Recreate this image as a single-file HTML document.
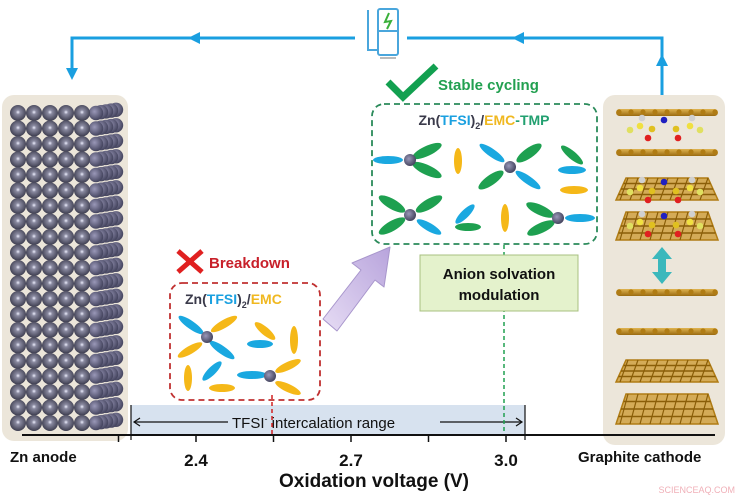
<!DOCTYPE html>
<html><head><meta charset="utf-8"><style>
html,body{margin:0;padding:0;background:#fff;}
svg{display:block;font-family:"Liberation Sans",sans-serif;}
</style></head><body>
<svg id="s" width="750" height="497" viewBox="0 0 750 497">
<defs>
<radialGradient id="zn" cx="0.5" cy="0.45" r="0.55"><stop offset="0" stop-color="#eef0ff"/><stop offset="0.25" stop-color="#8a8aa0"/><stop offset="1" stop-color="#3c3c4e"/></radialGradient>
<radialGradient id="zc" cx="0.4" cy="0.4" r="0.6"><stop offset="0" stop-color="#9a98b8"/><stop offset="1" stop-color="#464660"/></radialGradient>
<linearGradient id="gold" x1="0" y1="0" x2="0" y2="1"><stop offset="0" stop-color="#e0b450"/><stop offset="1" stop-color="#9a6a10"/></linearGradient>
<linearGradient id="purp" x1="0" y1="1" x2="1" y2="0"><stop offset="0" stop-color="#e6dcf4"/><stop offset="1" stop-color="#b8a4dc"/></linearGradient>
</defs>

<g stroke="#1a9fe0" stroke-width="3" fill="none">
<polyline points="72,75 72,38 355,38"/>
<polyline points="407,38 662,38 662,95"/>
</g>
<polygon points="72,80 66,68 78,68" fill="#1a9fe0"/>
<polygon points="188,38 200,32 200,44" fill="#1a9fe0"/>
<polygon points="512,38 524,32 524,44" fill="#1a9fe0"/>
<polygon points="662,54 656,66 668,66" fill="#1a9fe0"/>
<g fill="none" stroke="#4aa6dc" stroke-width="2">
<polyline points="368,10 368,50 378,50"/>
<rect x="378" y="9" width="20" height="46" rx="2"/>
<line x1="378" y1="31" x2="398" y2="31"/>
<line x1="380" y1="58" x2="396" y2="58" stroke="#bbb"/>
<polyline points="389,13 385,22 391,21 387,29" stroke="#3ab03a"/>
</g>

<rect x="2" y="95" width="126" height="346" rx="12" fill="#ece6da"/>
<g id="zng"></g>

<rect x="603" y="95" width="122" height="350" rx="12" fill="#ece6da"/>
<g id="gr"></g>
<g fill="#3bb8bc">
<polygon points="662,247 652,259 658,259 658,272 652,272 662,284 672,272 666,272 666,259 672,259"/>
</g>

<rect x="131" y="405" width="394" height="30" fill="#d7e2ef"/>
<g stroke="#111" stroke-width="1.2" fill="none">
<line x1="131" y1="405" x2="131" y2="440"/><line x1="525" y1="405" x2="525" y2="440"/>
<line x1="134" y1="422" x2="228" y2="422"/><line x1="440" y1="422" x2="522" y2="422"/>
<polyline points="140,418 134,422 140,426"/><polyline points="516,418 522,422 516,426"/>
</g>
<text x="232" y="428" font-size="15" fill="#111">TFSI<tspan font-size="9" dy="-6">-</tspan><tspan dy="6"> intercalation range</tspan></text>

<line x1="272" y1="395" x2="272" y2="435" stroke="#d02020" stroke-width="1.5" stroke-dasharray="4,3"/>
<line x1="504" y1="245" x2="504" y2="435" stroke="#20a050" stroke-width="1.5" stroke-dasharray="4,3"/>

<line x1="22" y1="435" x2="715" y2="435" stroke="#111" stroke-width="2"/>
<g id="ticks"></g>
<text x="10" y="462" font-size="15" font-weight="bold" fill="#111">Zn anode</text>
<text x="578" y="462" font-size="15" font-weight="bold" fill="#111">Graphite cathode</text>
<text x="374" y="487" font-size="19" font-weight="bold" fill="#111" text-anchor="middle">Oxidation voltage (V)</text>
<text x="735" y="493" font-size="9" fill="#f0b0b8" text-anchor="end">SCIENCEAQ.COM</text>

<g stroke="#e02020" stroke-width="5"><line x1="178" y1="251" x2="202" y2="272"/><line x1="202" y1="251" x2="178" y2="272"/></g>
<text x="209" y="268" font-size="15" font-weight="bold" fill="#c8202a">Breakdown</text>
<rect x="170" y="283" width="150" height="117" rx="12" fill="none" stroke="#c03030" stroke-width="1.8" stroke-dasharray="6,4"/>
<text x="185" y="304" font-size="14" font-weight="bold" fill="#3a3a4a">Zn(<tspan fill="#1aa0e0">TFSI</tspan>)<tspan font-size="9" dy="4">2</tspan><tspan dy="-4">/</tspan><tspan fill="#f0b820">EMC</tspan></text>
<g id="m1"></g>

<path d="M337,331 L323,319 L361,270 L352,263 L390,247 L384,287 L375,280 Z" fill="url(#purp)" stroke="#a896cc" stroke-linejoin="round"/>

<polyline points="388,82 403,97 436,66" fill="none" stroke="#12a050" stroke-width="7"/>
<text x="438" y="90" font-size="15" font-weight="bold" fill="#22a050">Stable cycling</text>
<rect x="372" y="104" width="225" height="140" rx="12" fill="none" stroke="#2a8a5a" stroke-width="1.8" stroke-dasharray="6,4"/>
<text x="484" y="125" font-size="14" font-weight="bold" fill="#3a3a4a" text-anchor="middle">Zn(<tspan fill="#1aa0e0">TFSI</tspan>)<tspan font-size="9" dy="4">2</tspan><tspan dy="-4">/</tspan><tspan fill="#f0b820">EMC</tspan><tspan fill="#22a070">-TMP</tspan></text>
<g id="m2"></g>

<rect x="420" y="255" width="158" height="56" fill="#e4f2cc" stroke="#a8c080"/>
<text x="499" y="279" font-size="15" font-weight="bold" fill="#111" text-anchor="middle">Anion solvation</text>
<text x="499" y="300" font-size="15" font-weight="bold" fill="#111" text-anchor="middle">modulation</text>
</svg>
<script>
const tickValues=[2.25,2.4,2.55,2.7,2.85,3.0];
const tickLabels=["2.4","2.7","3.0"];
const NS="http://www.w3.org/2000/svg";
function xs(v){return 196+(v-2.4)*(351-196)/0.3;}
function mk(tag,attrs,parent){const e=document.createElementNS(NS,tag);for(const k in attrs)e.setAttribute(k,attrs[k]);parent.appendChild(e);return e;}
const tg=document.getElementById('ticks');
tickValues.forEach(v=>{const l=mk('line',{x1:xs(v),x2:xs(v),y1:435,y2:442,stroke:'#111','stroke-width':1.5},tg);

});
tickLabels.forEach(t=>{const e=mk('text',{x:xs(parseFloat(t)),y:466,'font-size':17,'font-weight':'bold','text-anchor':'middle',fill:'#111'},tg);e.textContent=t;

});
const zg=document.getElementById('zng');
for(let r=0;r<21;r++){const y=113+r*15.5;
 for(let c=4;c>=0;c--){const x=96+c*5;mk('circle',{cx:x,cy:y-c*0.8,r:7.2,fill:'url(#zc)'},zg);}
 for(let c=0;c<5;c++){mk('circle',{cx:18+c*16,cy:y,r:8,fill:'url(#zn)'},zg);}
}
const gg=document.getElementById('gr');
function sheet(y){mk('rect',{x:616,y:y-3,width:102,height:7,rx:3.5,fill:'url(#gold)'},gg);
 for(let i=0;i<9;i++)mk('circle',{cx:619+i*12,cy:y,r:2.6,fill:'#b07c14'},gg);}
function plate(y,h){mk('polygon',{points:`${626},${y} ${708},${y} ${718},${y+h} ${616},${y+h}`,fill:'#d0a040','fill-opacity':0.85,stroke:'#b07c14','stroke-width':1.5},gg);
 for(let k=1;k<4;k++){const yy=y+h*k/4;mk('line',{x1:626-10*k/4,y1:yy,x2:708+10*k/4,y2:yy,stroke:'#8a5e08','stroke-width':1.5},gg);}
 for(let i=0;i<9;i++){const xx=628+i*10;mk('line',{x1:xx,y1:y,x2:xx-8,y2:y+h,stroke:'#8a5e08','stroke-width':1.2},gg);}}
[112,152,292,331].forEach(sheet);
plate(178,22);plate(212,28);plate(360,22);plate(394,30);
function mol(y){[[640,y,'#f0e040'],[652,y+3,'#e0c020'],[664,y-6,'#2020c0'],[676,y+3,'#e0c020'],[690,y,'#f0e040'],[648,y+12,'#e02020'],[678,y+12,'#e02020'],[630,y+4,'#e0e060'],[700,y+4,'#e0e060'],[642,y-8,'#d0d0d0'],[692,y-8,'#d0d0d0']].forEach(p=>mk('circle',{cx:p[0],cy:p[1],r:3.3,fill:p[2]},gg));}
[126,188,222].forEach(mol);
const B='#1aa8e0',Y='#f5b818',G='#1ea050';
function ell(g,cx,cy,rx,ry,a,c){mk('ellipse',{cx,cy,rx,ry,fill:c,transform:`rotate(${a} ${cx} ${cy})`},g);}
function zn(g,x,y){mk('circle',{cx:x,cy:y,r:6,fill:'url(#zc)'},g);}
const g1=document.getElementById('m1');
ell(g1,191,325,15,4,35,B);ell(g1,222,350,15,4,35,B);ell(g1,224,324,15,4,-30,Y);ell(g1,190,350,14,4,-30,Y);zn(g1,207,337);
ell(g1,265,331,13,4,40,Y);ell(g1,260,344,13,4,0,B);ell(g1,294,340,4,14,0,Y);
ell(g1,188,378,4,13,0,Y);ell(g1,212,371,13,4,-45,B);ell(g1,222,388,13,4,0,Y);
ell(g1,252,375,15,4,0,B);ell(g1,288,366,14,4,-25,Y);ell(g1,288,388,14,4,25,Y);zn(g1,270,376);
const g2=document.getElementById('m2');
ell(g2,388,160,15,4,0,B);ell(g2,427,151,16,5,-25,G);ell(g2,427,170,16,5,25,G);zn(g2,410,160);
ell(g2,458,161,4,13,0,Y);
ell(g2,492,153,15,4,35,B);ell(g2,528,180,15,4,35,B);ell(g2,529,153,15,5,-35,G);ell(g2,491,180,15,5,-35,G);zn(g2,510,167);
ell(g2,572,155,14,4,40,G);ell(g2,572,170,14,4,0,B);ell(g2,574,190,14,4,0,Y);
ell(g2,392,204,15,5,30,G);ell(g2,429,204,15,5,-30,G);ell(g2,392,226,15,5,-30,G);ell(g2,429,227,14,4,30,B);zn(g2,410,215);
ell(g2,465,214,13,4,-45,B);ell(g2,468,227,13,4,0,G);ell(g2,505,218,4,14,0,Y);
ell(g2,540,210,15,5,25,G);ell(g2,541,228,15,5,-25,G);ell(g2,580,218,15,4,0,B);zn(g2,558,218);
</script>
</body></html>
